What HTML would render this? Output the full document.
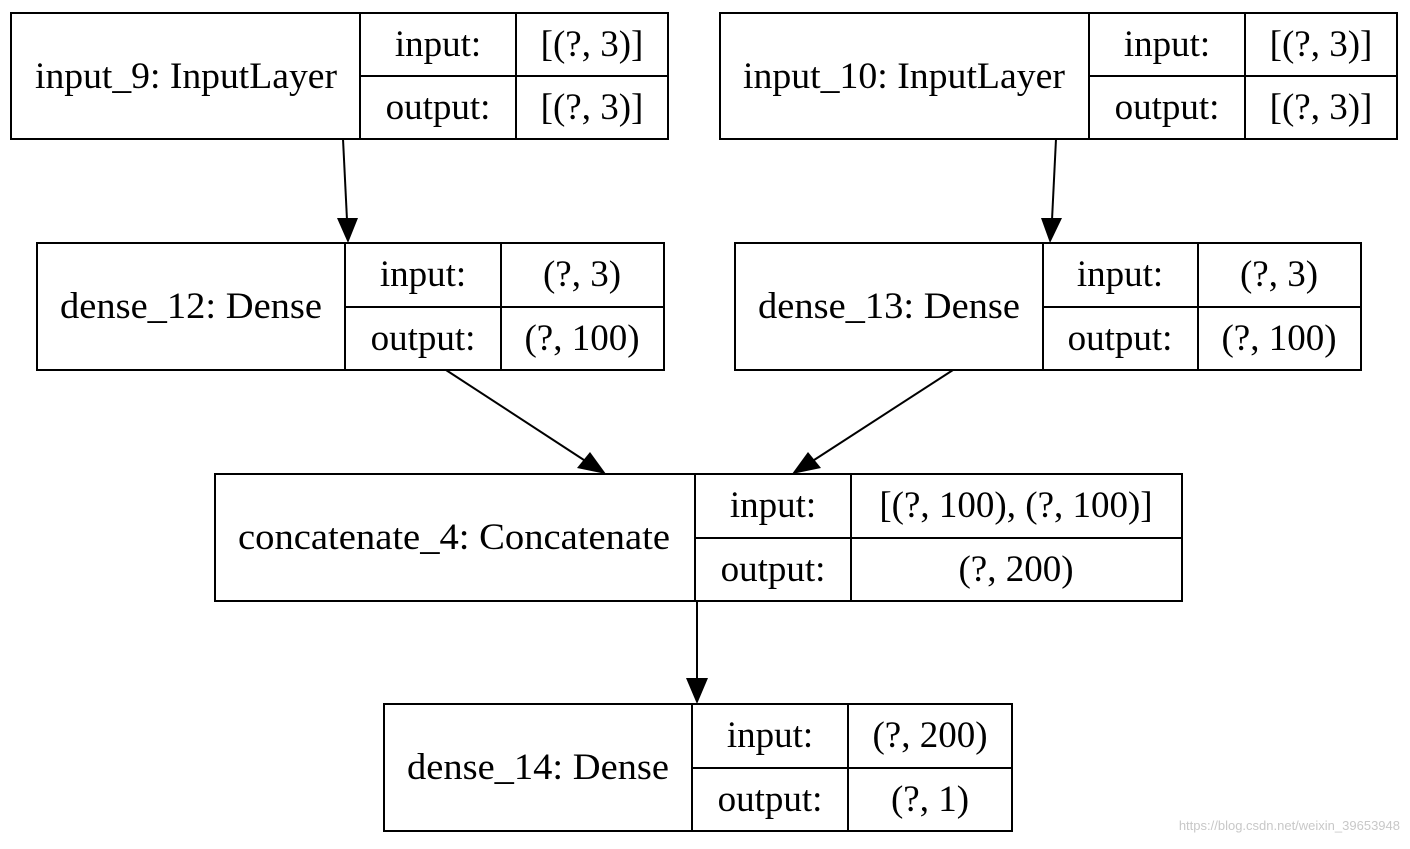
<!DOCTYPE html>
<html><head><style>html,body{margin:0;padding:0;background:#fff}</style></head><body>
<svg width="1410" height="844" xmlns="http://www.w3.org/2000/svg" font-family="Liberation Serif, serif" font-size="37" text-anchor="middle">
<g fill="none" stroke="#000" stroke-width="2">
<rect x="11" y="13" width="657" height="126"/><line x1="360" y1="13" x2="360" y2="139"/><line x1="516" y1="13" x2="516" y2="139"/><line x1="360" y1="76" x2="668" y2="76"/>
<rect x="720" y="13" width="677" height="126"/><line x1="1089" y1="13" x2="1089" y2="139"/><line x1="1245" y1="13" x2="1245" y2="139"/><line x1="1089" y1="76" x2="1397" y2="76"/>
<rect x="37" y="243" width="627" height="127"/><line x1="345" y1="243" x2="345" y2="370"/><line x1="501" y1="243" x2="501" y2="370"/><line x1="345" y1="307" x2="664" y2="307"/>
<rect x="735" y="243" width="626" height="127"/><line x1="1043" y1="243" x2="1043" y2="370"/><line x1="1198" y1="243" x2="1198" y2="370"/><line x1="1043" y1="307" x2="1361" y2="307"/>
<rect x="215" y="474" width="967" height="127"/><line x1="695" y1="474" x2="695" y2="601"/><line x1="851" y1="474" x2="851" y2="601"/><line x1="695" y1="538" x2="1182" y2="538"/>
<rect x="384" y="704" width="628" height="127"/><line x1="692" y1="704" x2="692" y2="831"/><line x1="848" y1="704" x2="848" y2="831"/><line x1="692" y1="768" x2="1012" y2="768"/>
<line x1="343" y1="139" x2="347" y2="220"/>
<line x1="1056" y1="139" x2="1052" y2="220"/>
<line x1="446" y1="370" x2="587" y2="462"/>
<line x1="953" y1="370" x2="811" y2="462"/>
<line x1="697" y1="601" x2="697" y2="680"/>
</g>
<g fill="#000">
<polygon points="337,218 358,218 348,243"/>
<polygon points="1041,218 1062,218 1050,243"/>
<polygon points="577,468 590,452 606,474"/>
<polygon points="808,452 821,468 792,474"/>
<polygon points="686,678 708,678 697,704"/>
</g>
<g fill="#000">
<text x="186" y="88" textLength="302" lengthAdjust="spacingAndGlyphs">input_9: InputLayer</text><text x="438" y="56">input:</text><text x="438" y="119">output:</text><text x="592" y="56">[(?, 3)]</text><text x="592" y="119">[(?, 3)]</text>
<text x="904" y="88" textLength="322" lengthAdjust="spacingAndGlyphs">input_10: InputLayer</text><text x="1167" y="56">input:</text><text x="1167" y="119">output:</text><text x="1321" y="56">[(?, 3)]</text><text x="1321" y="119">[(?, 3)]</text>
<text x="191" y="318" textLength="262" lengthAdjust="spacingAndGlyphs">dense_12: Dense</text><text x="423" y="286">input:</text><text x="423" y="350">output:</text><text x="582" y="286">(?, 3)</text><text x="582" y="350">(?, 100)</text>
<text x="889" y="318" textLength="262" lengthAdjust="spacingAndGlyphs">dense_13: Dense</text><text x="1120" y="286">input:</text><text x="1120" y="350">output:</text><text x="1279" y="286">(?, 3)</text><text x="1279" y="350">(?, 100)</text>
<text x="454" y="549" textLength="432" lengthAdjust="spacingAndGlyphs">concatenate_4: Concatenate</text><text x="773" y="517">input:</text><text x="773" y="581">output:</text><text x="1016" y="517">[(?, 100), (?, 100)]</text><text x="1016" y="581">(?, 200)</text>
<text x="538" y="779" textLength="262" lengthAdjust="spacingAndGlyphs">dense_14: Dense</text><text x="770" y="747">input:</text><text x="770" y="811">output:</text><text x="930" y="747">(?, 200)</text><text x="930" y="811">(?, 1)</text>
</g>
<text x="1400" y="830" font-family="Liberation Sans, sans-serif" font-size="13" fill="#c8c8c8" text-anchor="end">https://blog.csdn.net/weixin_39653948</text>
</svg>
</body></html>
